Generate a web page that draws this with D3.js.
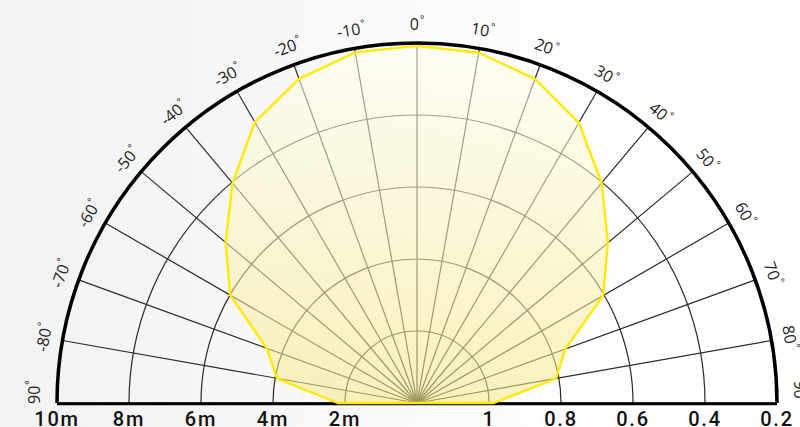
<!DOCTYPE html>
<html>
<head>
<meta charset="utf-8">
<script src="https://cdn.jsdelivr.net/npm/d3@7"></script>
<style>
  body { margin: 0; }
  svg { display: block; }
</style>
</head>
<body>
<div id="chart"></div>
<script>
(function() {

  var width = 800, height = 427;

  // beam angles (degrees) and reach of the light (metres)
  var angles = [-90, -80, -70, -60, -50, -40, -30, -20, -10, 0, 10, 20, 30, 40, 50, 60, 70, 80, 90];
  var reach = [2.2, 3.95, 4.44, 5.99, 6.94, 7.97, 9.01, 9.58, 9.89, 9.92, 9.88, 9.58, 8.99, 7.98, 6.92, 5.97, 4.38, 3.92, 2.13];

  // ring ticks
  var distTicks = [10, 8, 6, 4, 2];
  var distLabels = ["10m", "8m", "6m", "4m", "2m"];
  var relTicks = [1, 0.8, 0.6, 0.4, 0.2];
  var relLabels = ["1", "0.8", "0.6", "0.4", "0.2"];
  var spokes = d3.range(-90, 91, 10);

  var cx = 417, cy = 403, R = 360;

  var rScale = d3.scaleLinear().domain([0, 10]).range([0, R]);
  var relScale = d3.scaleLinear().domain([1.2, 0.2]).range([0, R]);
  var rad = function(a) { return a * Math.PI / 180; };

  var svg = d3.select("#chart")
    .append("svg")
    .attr("width", width)
    .attr("height", height);

  var defs = svg.append("defs");

  var bg = defs.append("linearGradient").attr("id", "bg")
    .attr("x1", 0).attr("x2", 1).attr("y1", 0).attr("y2", 0);
  bg.append("stop").attr("offset", "0%").attr("stop-color", "#f2f2f2");
  bg.append("stop").attr("offset", "80%").attr("stop-color", "#ffffff");

  // gradient lives in the translated group's space
  var glow = defs.append("linearGradient").attr("id", "glow")
    .attr("gradientUnits", "userSpaceOnUse")
    .attr("x1", 0).attr("x2", 0).attr("y1", -R).attr("y2", 0);
  glow.append("stop").attr("offset", "0%").attr("stop-color", "#ffffef");
  glow.append("stop").attr("offset", "100%").attr("stop-color", "#f6e98a");

  svg.append("rect")
    .attr("width", width)
    .attr("height", height)
    .attr("fill", "url(#bg)");

  var g = svg.append("g")
    .attr("transform", "translate(" + cx + "," + cy + ")");

  // inner rings
  var ringArc = d3.arc()
    .innerRadius(function(d) { return rScale(d); })
    .outerRadius(function(d) { return rScale(d); })
    .startAngle(-Math.PI / 2)
    .endAngle(Math.PI / 2);

  g.selectAll(".ring")
    .data(distTicks.filter(function(d) { return d < 10; }))
    .enter().append("path")
    .attr("class", "ring")
    .attr("d", ringArc)
    .attr("fill", "none")
    .attr("stroke", "#2a2a2a")
    .attr("stroke-width", 1.2);

  // spokes
  g.selectAll(".spoke")
    .data(spokes)
    .enter().append("line")
    .attr("class", "spoke")
    .attr("x1", 0).attr("y1", 0)
    .attr("x2", function(d) { return rScale(10) * Math.sin(rad(d)); })
    .attr("y2", function(d) { return -rScale(10) * Math.cos(rad(d)); })
    .attr("stroke", "#2a2a2a")
    .attr("stroke-width", 1.2);

  // baseline
  g.append("line")
    .attr("x1", -rScale(10)).attr("x2", rScale(10))
    .attr("y1", 0.8).attr("y2", 0.8)
    .attr("stroke", "#000")
    .attr("stroke-width", 3);

  // light shape
  var shape = d3.lineRadial()
    .angle(function(d, i) { return rad(angles[i]); })
    .radius(function(d) { return rScale(d); })
    .curve(d3.curveLinearClosed);

  g.append("path")
    .attr("d", shape(reach))
    .attr("fill", "url(#glow)")
    .attr("fill-opacity", 0.56)
    .attr("stroke", "#ffea00")
    .attr("stroke-width", 2.4)
    .attr("stroke-linejoin", "round");

  // outer arc
  g.append("path")
    .attr("d", ringArc(10))
    .attr("fill", "none")
    .attr("stroke", "#000")
    .attr("stroke-width", 3.5);

  // angle labels
  var angleText = g.selectAll(".angle")
    .data(spokes)
    .enter().append("text")
    .attr("class", "angle")
    .attr("transform", function(d) {
      var a = Math.abs(d) === 90 ? d * 0.982 : d;
      var r = Math.abs(d) === 90 ? 383 : 379;
      return "translate(" + (r * Math.sin(rad(a))) + "," + (-r * Math.cos(rad(a))) + ") rotate(" + d + ")";
    })
    .attr("text-anchor", "middle")
    .attr("dominant-baseline", "central")
    .attr("font-family", "'Open Sans', sans-serif")
    .attr("font-size", 16)
    .attr("fill", "#222");

  angleText.append("tspan")
    .text(function(d) { return Math.abs(d) === 90 ? 90 : d; });
  angleText.append("tspan")
    .attr("font-size", 10)
    .attr("dx", 1)
    .attr("dy", -5)
    .text("°");

  // distance labels (left) and relative labels (right)
  g.selectAll(".dist")
    .data(distTicks)
    .enter().append("text")
    .attr("class", "dist")
    .attr("x", function(d) { return -rScale(d); })
    .attr("y", 23)
    .attr("text-anchor", "middle")
    .attr("font-family", "Roboto, sans-serif")
    .attr("font-weight", 500)
    .attr("font-size", 20)
    .attr("letter-spacing", 1.8)
    .attr("fill", "#111")
    .text(function(d, i) { return distLabels[i]; });

  g.selectAll(".rel")
    .data(relTicks)
    .enter().append("text")
    .attr("class", "rel")
    .attr("x", function(d) { return relScale(d); })
    .attr("y", 23)
    .attr("text-anchor", "middle")
    .attr("font-family", "Roboto, sans-serif")
    .attr("font-weight", 500)
    .attr("font-size", 20)
    .attr("letter-spacing", 1.8)
    .attr("fill", "#111")
    .text(function(d, i) { return relLabels[i]; });

})();
</script>
</body>
</html>
